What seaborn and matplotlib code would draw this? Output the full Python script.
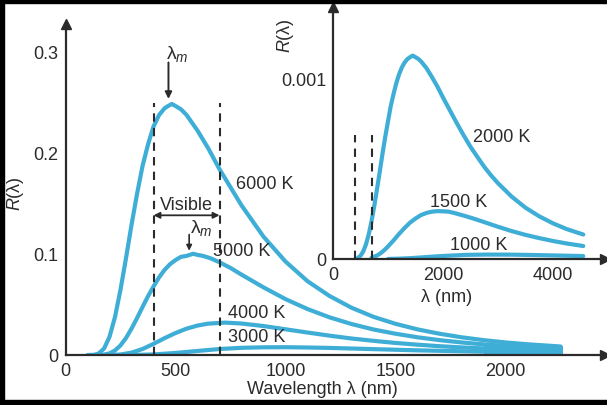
import numpy as np
import pandas as pd
import matplotlib
matplotlib.use("Agg")
import matplotlib.pyplot as plt
import seaborn as sns
from matplotlib.patches import Rectangle

# ---------------- data ----------------
lam_6000 = [100, 130, 150, 175, 200, 225, 250, 275, 300, 325, 350, 375, 400, 425, 450, 465, 483,
            500, 525, 550, 600, 650, 700, 750, 800, 900, 1000, 1100, 1200, 1300, 1400, 1500,
            1600, 1700, 1800, 1900, 2000, 2100, 2250]
r_6000 = [0.0, 0.0002, 0.0014, 0.0063, 0.0179, 0.0376, 0.0645, 0.0957, 0.1285, 0.159, 0.1866,
          0.208, 0.2257, 0.237, 0.2437, 0.2458, 0.248, 0.246, 0.2427, 0.2372, 0.2217, 0.2037,
          0.1835, 0.1657, 0.1478, 0.1169, 0.0923, 0.0729, 0.0583, 0.0467, 0.0377, 0.0308,
          0.0253, 0.021, 0.0175, 0.0147, 0.0124, 0.0106, 0.0084]

lam_5000 = [150, 175, 200, 225, 250, 275, 300, 325, 350, 375, 400, 425, 450, 475, 500, 525, 550,
            580, 600, 625, 660, 700, 750, 800, 900, 1000, 1100, 1200, 1300, 1400, 1500, 1600,
            1700, 1800, 1900, 2000, 2100, 2250]
r_5000 = [0.0001, 0.0004, 0.0016, 0.0045, 0.0095, 0.0168, 0.026, 0.0364, 0.0474, 0.058, 0.0677,
          0.0766, 0.084, 0.0897, 0.0938, 0.097, 0.0979, 0.100, 0.0989, 0.0979, 0.0955, 0.0916,
          0.086, 0.0794, 0.0668, 0.0552, 0.0454, 0.0372, 0.0306, 0.0252, 0.021, 0.0175, 0.0147,
          0.0124, 0.0105, 0.009, 0.0077, 0.0062]

lam_4000 = [200, 250, 300, 350, 400, 450, 500, 550, 600, 650, 725, 800, 900, 1000, 1100, 1200,
            1300, 1400, 1500, 1600, 1700, 1800, 1900, 2000, 2100, 2250]
r_4000 = [0.0, 0.0005, 0.0023, 0.0059, 0.011, 0.0166, 0.0217, 0.026, 0.0291, 0.031, 0.032,
          0.0311, 0.0286, 0.0254, 0.0222, 0.0191, 0.0163, 0.014, 0.0119, 0.0102, 0.0087, 0.0075,
          0.0065, 0.0056, 0.0049, 0.004]

lam_3000 = [300, 400, 500, 600, 700, 800, 900, 1000, 1100, 1200, 1400, 1600, 1800, 2000, 2250]
r_3000 = [0.0, 0.00056, 0.002, 0.004, 0.0059, 0.0071, 0.0076, 0.0077, 0.0074, 0.007, 0.0058,
          0.0046, 0.0037, 0.0029, 0.0022]

band_lam = [1900, 2260]
band_top = [0.009, 0.009]

# inset
lam_2000 = [450, 500, 550, 600, 650, 700, 750, 800, 850, 900, 950, 1000, 1050, 1100, 1150, 1200,
            1250, 1300, 1350, 1400, 1450, 1500, 1550, 1600, 1700, 1800, 1900, 2000, 2125, 2250,
            2375, 2500, 2625, 2750, 2875, 3000, 3250, 3500, 3750, 4000, 4250, 4550]
r_2000 = [0.000006, 0.000018, 0.000042, 0.000082, 0.000137, 0.000209, 0.000294, 0.000388,
          0.000485, 0.000585, 0.000679, 0.000765, 0.00085, 0.000916, 0.000976, 0.001025,
          0.001063, 0.001091, 0.00111, 0.001121, 0.00113, 0.001121, 0.001112, 0.001098,
          0.00106, 0.00101, 0.000957, 0.000897, 0.000826, 0.000755, 0.000687, 0.000623,
          0.000567, 0.000512, 0.000464, 0.000421, 0.000346, 0.000285, 0.000237, 0.000198,
          0.000166, 0.000136]

lam_1500 = [700, 800, 850, 900, 950, 1000, 1100, 1200, 1300, 1400, 1500, 1600, 1700, 1800, 1900,
            2000, 2100, 2200, 2400, 2550, 2700, 3000, 3250, 3500, 3750, 4000, 4250, 4550]
r_1500 = [0.0000068, 0.0000194, 0.0000289, 0.0000406, 0.0000544, 0.0000696, 0.000103, 0.000139,
          0.000172, 0.000202, 0.000225, 0.000244, 0.000256, 0.000263, 0.000266, 0.000265,
          0.000263, 0.000256, 0.000239, 0.000225, 0.00021, 0.000179, 0.000155, 0.000134,
          0.000116, 0.0001, 0.000086, 0.000072]

lam_1000 = [1000, 1200, 1400, 1600, 1800, 2000, 2400, 2800, 3200, 3600, 4000, 4550]
r_1000 = [0.0000004, 0.0000018, 0.0000046, 0.0000086, 0.000013, 0.0000169, 0.0000228,
          0.0000246, 0.0000243, 0.0000224, 0.0000199, 0.0000163]

main_xticks = [0, 500, 1000, 1500, 2000]
main_xtick_labels = ["0", "500", "1000", "1500", "2000"]
main_yticks = [0, 0.1, 0.2, 0.3]
main_ytick_labels = ["0", "0.1", "0.2", "0.3"]
inset_xticks = [0, 2000, 4000]
inset_xtick_labels = ["0", "2000", "4000"]
inset_yticks = [0, 0.001]
inset_ytick_labels = ["0", "0.001"]

curve_labels_main = ["6000 K", "5000 K", "4000 K", "3000 K"]
curve_labels_inset = ["2000 K", "1500 K", "1000 K"]

# ---------------- styling ----------------
sns.set_theme(style="white")
plt.rcParams["font.family"] = ["Liberation Sans", "DejaVu Sans"]
plt.rcParams["mathtext.fontset"] = "custom"
plt.rcParams["mathtext.rm"] = "Liberation Sans"
plt.rcParams["mathtext.it"] = "Liberation Sans:italic"

BLUE = "#3FAED6"
DARK = "#2b2b2b"
FS = 13
LW = 3.0

fig = plt.figure(figsize=(6.07, 4.06), dpi=100)
fig.patch.set_facecolor("white")

W, H = 607.0, 406.0


def style_axes(ax, xmaxv, ymaxv):
    for s in ["top", "right"]:
        ax.spines[s].set_visible(False)
    for s in ["left", "bottom"]:
        ax.spines[s].set_color(DARK)
        ax.spines[s].set_linewidth(1.6)
    ax.set_facecolor("none")
    ax.set_xlim(0, xmaxv)
    ax.set_ylim(0, ymaxv)
    ax.tick_params(which="major", direction="in", length=8.5, width=1.4, color=DARK,
                   labelsize=FS, labelcolor=DARK, pad=5)
    ax.tick_params(which="minor", direction="in", length=4.5, width=1.4, color=DARK)
    ax.plot(1, 0, ">", color=DARK, markersize=7, transform=ax.transAxes, clip_on=False)
    ax.plot(0, 1, "^", color=DARK, markersize=7, transform=ax.transAxes, clip_on=False)


# ---------------- main axes ----------------
MX0, MY0, MX1, MY1 = 65.5, 356.0, 605.0, 25.0
ax = fig.add_axes([MX0 / W, (H - MY0) / H, (MX1 - MX0) / W, (MY0 - MY1) / H])
style_axes(ax, 2452, 0.327)

for lx, ly in [(lam_6000, r_6000), (lam_5000, r_5000), (lam_4000, r_4000), (lam_3000, r_3000)]:
    sns.lineplot(x=lx, y=ly, ax=ax, color=BLUE, lw=LW, sort=False, legend=False)
ax.fill_between(band_lam, 0, band_top, color=BLUE, lw=0)

ax.set_xticks(main_xticks)
ax.set_xticklabels(main_xtick_labels)
ax.set_xticks(np.arange(100, 2400, 100), minor=True)
ax.set_yticks(main_yticks)
ax.set_yticklabels(main_ytick_labels)
ax.set_yticks(np.arange(0.02, 0.32, 0.02), minor=True)
ax.set_xlabel("Wavelength λ (nm)", fontsize=FS, color=DARK)
ax.xaxis.set_label_coords((322 - MX0) / (MX1 - MX0), -(381 - MY0) / (MY0 - MY1))
ax.set_ylabel("$R$(λ)", fontsize=FS, color=DARK)
ax.yaxis.set_label_coords(-(MX0 - 26) / (MX1 - MX0), (MY0 - 194) / (MY0 - MY1))

# visible range
for xv in [400, 700]:
    ax.plot([xv, xv], [0, 0.249], ls=(0, (4, 3)), color=DARK, lw=1.5)
ax.text(550, 0.149, "Visible", ha="center", va="center", fontsize=FS, color=DARK)
ax.annotate("", xy=(400, 0.138), xytext=(700, 0.138),
            arrowprops=dict(arrowstyle="<|-|>", color=DARK, lw=1.3, mutation_scale=9,
                            shrinkA=0, shrinkB=0))
# lambda_m markers
ax.text(458, 0.298, "λ$_m$", ha="left", va="center", fontsize=FS + 1, color=DARK)
ax.annotate("", xy=(468, 0.253), xytext=(468, 0.289),
            arrowprops=dict(arrowstyle="-|>", color=DARK, lw=1.4, mutation_scale=10,
                            shrinkA=0, shrinkB=0))
ax.text(568, 0.126, "λ$_m$", ha="left", va="center", fontsize=FS + 1, color=DARK)
ax.annotate("", xy=(562, 0.103), xytext=(562, 0.119),
            arrowprops=dict(arrowstyle="-|>", color=DARK, lw=1.2, mutation_scale=8,
                            shrinkA=0, shrinkB=0))

for txt, (tx, ty) in zip(curve_labels_main, [(775, 0.169), (672, 0.103), (738, 0.0415), (738, 0.0178)]):
    ax.text(tx, ty, txt, ha="left", va="center", fontsize=FS, color=DARK)

# ---------------- inset ----------------
IX0, IY0, IX1, IY1 = 333.0, 260.0, 605.0, 8.0
ai = fig.add_axes([IX0 / W, (H - IY0) / H, (IX1 - IX0) / W, (IY0 - IY1) / H])
style_axes(ai, 4945, 0.0014)

for lx, ly in [(lam_2000, r_2000), (lam_1500, r_1500), (lam_1000, r_1000)]:
    sns.lineplot(x=lx, y=ly, ax=ai, color=BLUE, lw=LW, sort=False, legend=False)

ai.set_xticks(inset_xticks)
ai.set_xticklabels(inset_xtick_labels)
ai.set_xticks(np.arange(200, 4700, 200), minor=True)
ai.set_yticks(inset_yticks)
ai.set_yticklabels(inset_ytick_labels)
ai.set_yticks([k * 0.001 / 9 for k in range(1, 11)], minor=True)
ai.set_xlabel("λ (nm)", fontsize=FS, color=DARK)
ai.xaxis.set_label_coords((447 - IX0) / (IX1 - IX0), -(289 - IY0) / (IY0 - IY1))
ai.set_ylabel("$R$(λ)", fontsize=FS, color=DARK)
ai.yaxis.set_label_coords(-(IX0 - 296) / (IX1 - IX0), (IY0 - 36) / (IY0 - IY1))

for xv in [400, 700]:
    ai.plot([xv, xv], [0, 0.00069], ls=(0, (4, 3)), color=DARK, lw=1.5)

for txt, (tx, ty) in zip(curve_labels_inset, [(2545, 0.00068), (1764, 0.00032), (2127, 0.000083)]):
    ai.text(tx, ty, txt, ha="left", va="center", fontsize=FS, color=DARK)

# black frame edges of the scanned picture
for (x0, y0, w, h) in [(0, 0, 4, H), (0, H - 5, W, 5), (0, 0, W, 4)]:
    fig.patches.append(Rectangle((x0 / W, 1 - (y0 + h) / H), w / W, h / H,
                                 transform=fig.transFigure, color="black", zorder=10))

fig.savefig("out.png", dpi=100, facecolor="white")
